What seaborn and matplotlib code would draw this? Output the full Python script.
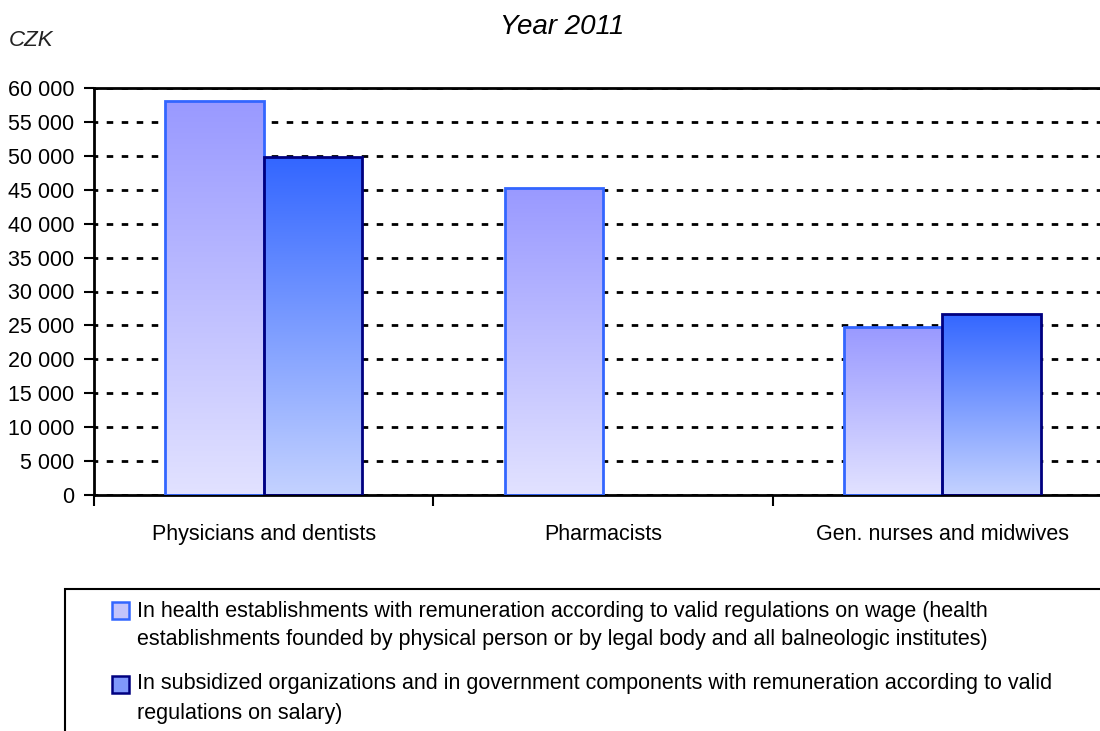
import numpy as np
import pandas as pd
import matplotlib
matplotlib.use("Agg")
import matplotlib.pyplot as plt
import seaborn as sns
from matplotlib.patches import Rectangle
from matplotlib.ticker import FuncFormatter
from matplotlib.colors import LinearSegmentedColormap

categories = ["Physicians and dentists", "Pharmacists", "Gen. nurses and midwives"]
series_names = [
    "In health establishments with remuneration according to valid regulations on wage (health\n"
    "establishments founded by physical person or by legal body and all balneologic institutes)",
    "In subsidized organizations and in government components with remuneration according to valid\n"
    "regulations on salary)",
]
wage_values = [58100, 45300, 24800]
salary_values = [49800, np.nan, 26700]
yticks = list(range(0, 60001, 5000))

sns.set_theme(style="white")
plt.rcParams["font.family"] = ["Liberation Sans", "DejaVu Sans"]

df = pd.DataFrame({
    "category": categories * 2,
    "series": [series_names[0]] * 3 + [series_names[1]] * 3,
    "value": wage_values + salary_values,
})

W, H = 1100, 731
fig = plt.figure(figsize=(11, 7.31), dpi=100)
ax = fig.add_axes([94 / W, 1 - 495 / H, (1112 - 94) / W, (495 - 88) / H])

sns.barplot(data=df, x="category", y="value", hue="series", order=categories,
            hue_order=series_names, width=0.58, ax=ax, legend=False,
            errorbar=None, saturation=1)

grads = [("#9999ff", "#e2e2ff", "#3366ff"), ("#3366ff", "#c4d2ff", "#000080")]
for cont, (top, bot, edge) in zip(ax.containers, grads):
    cmap = LinearSegmentedColormap.from_list("g", [bot, top])
    for p in cont.patches:
        h = p.get_height()
        if not np.isfinite(h) or h == 0:
            continue
        x0 = p.get_x(); w = p.get_width()
        p.set_facecolor("none")
        p.set_edgecolor(edge)
        p.set_linewidth(2)
        p.set_zorder(3)
        grad = np.linspace(0, 1, 256).reshape(-1, 1)
        im = ax.imshow(grad, cmap=cmap, origin="lower", aspect="auto",
                       extent=[x0, x0 + w, 0, h], zorder=2.5)
        im.set_clip_path(p)

ax.set_xlim(-0.5, 2.5)
ax.set_ylim(0, 60000)
ax.set_yticks(yticks)
ax.yaxis.set_major_formatter(FuncFormatter(lambda v, _: f"{int(v):,}".replace(",", " ")))
ax.yaxis.grid(True, color="black", linestyle=(1, (2.35, 3.05)), linewidth=2)
ax.set_axisbelow(True)

ax.set_xticks([-0.5, 0.5, 1.5, 2.5])
ax.set_xticklabels([])
ax.set_xticks([0, 1, 2], minor=True)
ax.set_xticklabels(categories, minor=True, fontsize=15.5, color="black")
ax.tick_params(axis="x", which="major", length=8, width=1.5, direction="out", color="black", bottom=True)
ax.tick_params(axis="x", which="minor", length=0, pad=21)
ax.tick_params(axis="y", length=7, width=1.5, direction="out", color="black", left=True,
               labelsize=15.5, labelcolor="black", pad=7)
ax.set_xlabel("")
ax.set_ylabel("")

for s in ["left", "bottom", "top"]:
    ax.spines[s].set_visible(True)
    ax.spines[s].set_color("black")
    ax.spines[s].set_linewidth(2)
ax.spines["right"].set_visible(False)

fig.text(562 / W, 1 - 27 / H, "Year 2011", ha="center", va="center", fontsize=20, style="italic", color="black")
fig.text(9 / W, 1 - 40 / H, "CZK", ha="left", va="center", fontsize=16, style="italic", color="#222222")

# legend (manual, box open to the right and bottom like the reference)
fig.patches.append(Rectangle((65 / W, -0.05), 1.1, (H - 589) / H + 0.05,
                             transform=fig.transFigure, fill=False, edgecolor="black",
                             linewidth=1.5, zorder=0))
legend_style = [("#c4c4fb", "#3366ff", 610, 625.5), ("#7f98fb", "#000080", 684, 698.5)]
for name, (fc, ec, my, ty) in zip(series_names, legend_style):
    fig.patches.append(Rectangle((112 / W, 1 - (my + 8.5) / H), 17 / W, 17 / H,
                                 transform=fig.transFigure, facecolor=fc, edgecolor=ec,
                                 linewidth=1.8, zorder=2))
    fig.text(137 / W, 1 - ty / H, name, ha="left", va="center", fontsize=15.5,
             linespacing=1.5, color="black")

fig.savefig("out.png", dpi=100)
